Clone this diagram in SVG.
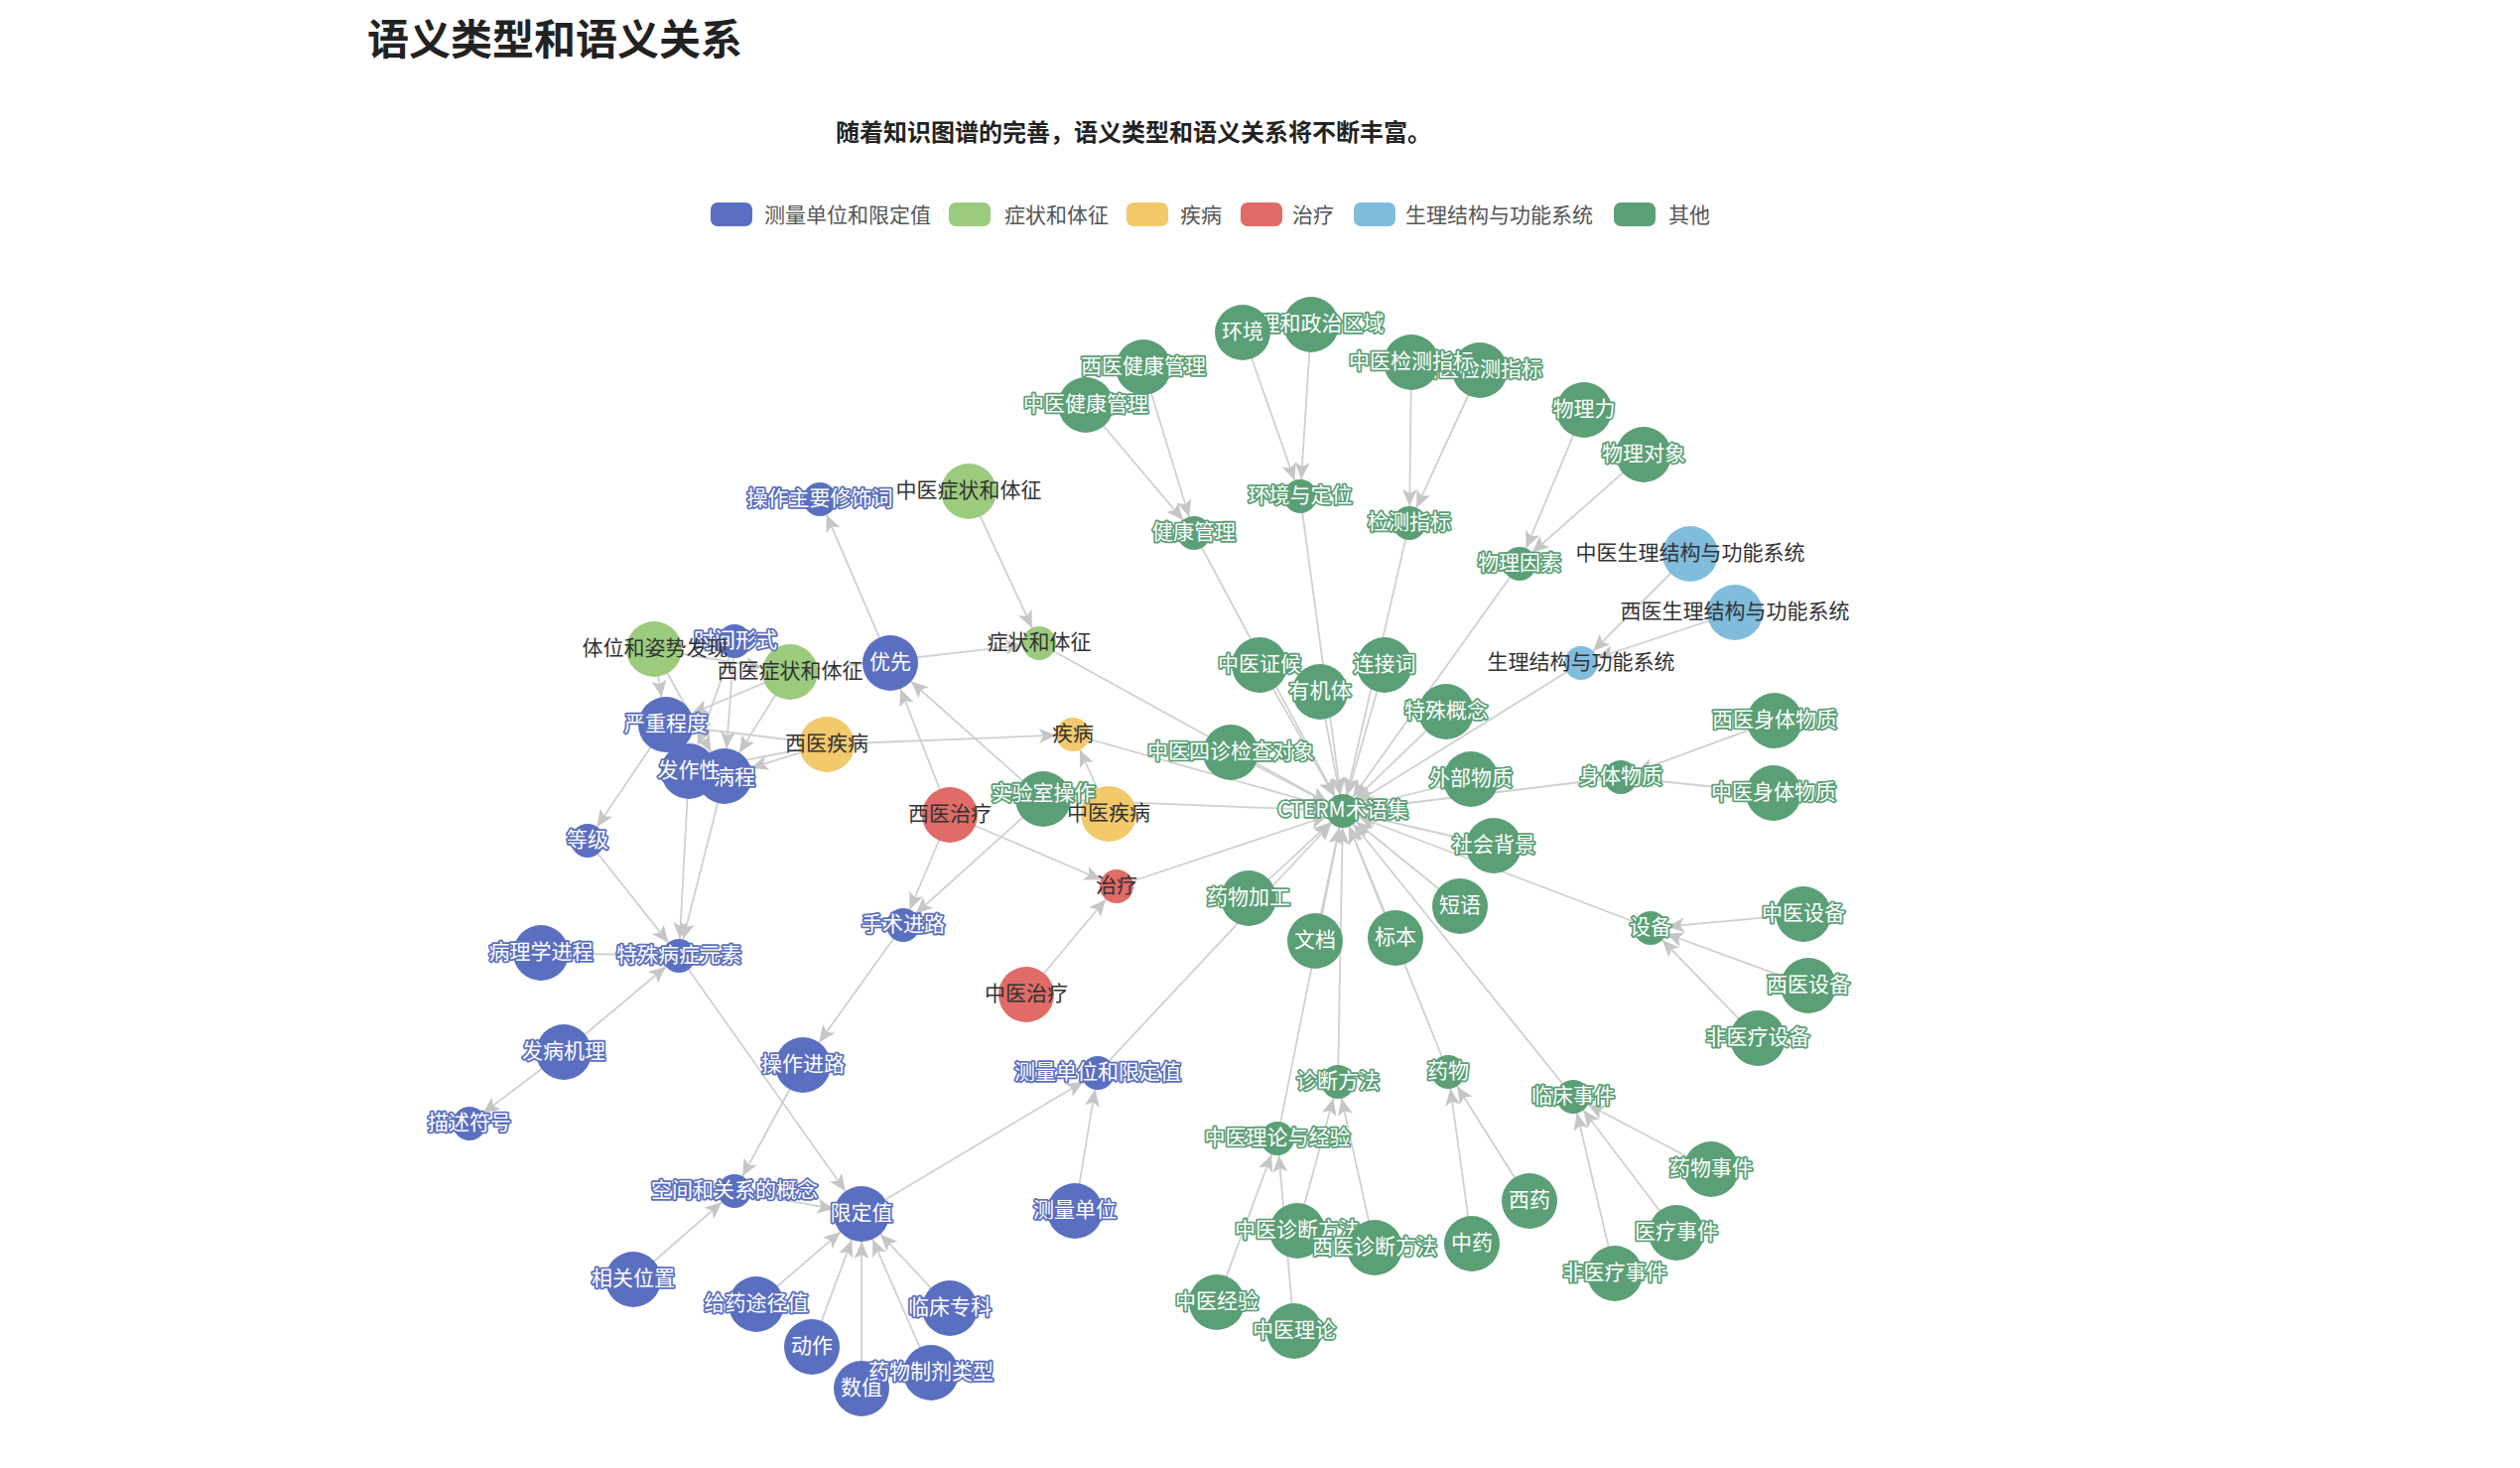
<svg xmlns="http://www.w3.org/2000/svg" width="2539" height="1479" viewBox="0 0 2539 1479">
<style>
.t{font-family:"Noto Sans CJK SC","Noto Sans",sans-serif;font-size:21px;text-anchor:middle;dominant-baseline:central}
.d{fill:#333}
.ob{fill:#fff;stroke:#5b6fc1;stroke-width:3.6;paint-order:stroke;stroke-linejoin:round}
.og{fill:#fff;stroke:#5b9f76;stroke-width:3.6;paint-order:stroke;stroke-linejoin:round}
.cb{fill:#5b6fc1}.cg{fill:#5b9f76}.clg{fill:#9ccb7e}.cy{fill:#f2c96b}.cr{fill:#e06b67}.clb{fill:#80bcdc}
#edges line{stroke:#d0d0d0;stroke-width:1.8}
.ah{fill:#c6c6c6}
.lg{font-family:"Noto Sans CJK SC","Noto Sans",sans-serif;font-size:21px;fill:#555}
#nodes text{transform:translateY(-3px)}
</style>
<defs>
<marker id="a17" markerUnits="userSpaceOnUse" orient="auto" markerWidth="60" markerHeight="30" viewBox="-60 -15 60 30" refX="0" refY="0" overflow="visible"><path class="ah" d="M-17,0 L-34,-7.5 L-30,0 L-34,7.5 Z"/></marker>
<marker id="a28" markerUnits="userSpaceOnUse" orient="auto" markerWidth="60" markerHeight="30" viewBox="-60 -15 60 30" refX="0" refY="0" overflow="visible"><path class="ah" d="M-28,0 L-45,-7.5 L-41,0 L-45,7.5 Z"/></marker>
</defs>
<rect width="2539" height="1479" fill="#fff"/>
<text x="370" y="55" style="font-family:'Noto Sans CJK SC',sans-serif;font-size:42px;font-weight:bold;fill:#222">语义类型和语义关系</text>
<text x="842" y="142" style="font-family:'Noto Sans CJK SC',sans-serif;font-size:24px;font-weight:bold;fill:#222">随着知识图谱的完善，语义类型和语义关系将不断丰富。</text>
<g id="legend">
<rect x="716" y="204" width="42" height="24" rx="7" class="cb"/><text class="lg" x="770" y="224">测量单位和限定值</text>
<rect x="956" y="204" width="42" height="24" rx="7" class="clg"/><text class="lg" x="1012" y="224">症状和体征</text>
<rect x="1135" y="204" width="42" height="24" rx="7" class="cy"/><text class="lg" x="1189" y="224">疾病</text>
<rect x="1250" y="204" width="42" height="24" rx="7" class="cr"/><text class="lg" x="1302" y="224">治疗</text>
<rect x="1364" y="204" width="42" height="24" rx="7" class="clb"/><text class="lg" x="1416" y="224">生理结构与功能系统</text>
<rect x="1626" y="204" width="42" height="24" rx="7" class="cg"/><text class="lg" x="1681" y="224">其他</text>
</g>
<g id="edges">
<g marker-end="url(#a17)">
<line x1="1203" y1="537" x2="1353" y2="817"/>
<line x1="1310" y1="500" x2="1353" y2="817"/>
<line x1="1420" y1="527" x2="1353" y2="817"/>
<line x1="1531" y1="568" x2="1353" y2="817"/>
<line x1="1047" y1="648" x2="1353" y2="817"/>
<line x1="1593" y1="668" x2="1353" y2="817"/>
<line x1="1633" y1="783" x2="1353" y2="817"/>
<line x1="1269" y1="670" x2="1353" y2="817"/>
<line x1="1330" y1="697" x2="1353" y2="817"/>
<line x1="1395" y1="670" x2="1353" y2="817"/>
<line x1="1457" y1="717" x2="1353" y2="817"/>
<line x1="1240" y1="758" x2="1353" y2="817"/>
<line x1="1482" y1="785" x2="1353" y2="817"/>
<line x1="1505" y1="852" x2="1353" y2="817"/>
<line x1="1471" y1="913" x2="1353" y2="817"/>
<line x1="1406" y1="945" x2="1353" y2="817"/>
<line x1="1325" y1="948" x2="1353" y2="817"/>
<line x1="1258" y1="905" x2="1353" y2="817"/>
<line x1="1663" y1="935" x2="1353" y2="817"/>
<line x1="1585" y1="1105" x2="1353" y2="817"/>
<line x1="1459" y1="1080" x2="1353" y2="817"/>
<line x1="1348" y1="1090" x2="1353" y2="817"/>
<line x1="1287" y1="1147" x2="1353" y2="817"/>
<line x1="1106" y1="1081" x2="1353" y2="817"/>
<line x1="1125" y1="893" x2="1353" y2="817"/>
<line x1="1081" y1="740" x2="1353" y2="817"/>
<line x1="1051" y1="805" x2="1353" y2="817"/>
<line x1="1094" y1="408" x2="1203" y2="537"/>
<line x1="1152" y1="370" x2="1203" y2="537"/>
<line x1="1252" y1="335" x2="1310" y2="500"/>
<line x1="1321" y1="327" x2="1310" y2="500"/>
<line x1="1422" y1="365" x2="1420" y2="527"/>
<line x1="1491" y1="373" x2="1420" y2="527"/>
<line x1="1596" y1="413" x2="1531" y2="568"/>
<line x1="1656" y1="458" x2="1531" y2="568"/>
<line x1="976" y1="495" x2="1047" y2="648"/>
<line x1="796" y1="677" x2="1047" y2="648"/>
<line x1="1703" y1="558" x2="1593" y2="668"/>
<line x1="1748" y1="617" x2="1593" y2="668"/>
<line x1="1788" y1="726" x2="1633" y2="783"/>
<line x1="1787" y1="799" x2="1633" y2="783"/>
<line x1="1817" y1="921" x2="1663" y2="935"/>
<line x1="1822" y1="993" x2="1663" y2="935"/>
<line x1="1771" y1="1046" x2="1663" y2="935"/>
<line x1="1724" y1="1178" x2="1585" y2="1105"/>
<line x1="1689" y1="1242" x2="1585" y2="1105"/>
<line x1="1627" y1="1283" x2="1585" y2="1105"/>
<line x1="1541" y1="1210" x2="1459" y2="1080"/>
<line x1="1483" y1="1253" x2="1459" y2="1080"/>
<line x1="1307" y1="1240" x2="1348" y2="1090"/>
<line x1="1385" y1="1257" x2="1348" y2="1090"/>
<line x1="1226" y1="1312" x2="1287" y2="1147"/>
<line x1="1304" y1="1341" x2="1287" y2="1147"/>
<line x1="1083" y1="1220" x2="1106" y2="1081"/>
<line x1="868" y1="1223" x2="1106" y2="1081"/>
<line x1="638" y1="1289" x2="740" y2="1200"/>
<line x1="809" y1="1073" x2="740" y2="1200"/>
<line x1="592" y1="847" x2="684" y2="963"/>
<line x1="545" y1="960" x2="684" y2="963"/>
<line x1="568" y1="1060" x2="684" y2="963"/>
<line x1="694" y1="777" x2="684" y2="963"/>
<line x1="730" y1="782" x2="684" y2="963"/>
<line x1="568" y1="1060" x2="473" y2="1132"/>
<line x1="671" y1="730" x2="592" y2="847"/>
<line x1="957" y1="821" x2="910" y2="932"/>
<line x1="1051" y1="805" x2="910" y2="932"/>
<line x1="957" y1="821" x2="1125" y2="893"/>
<line x1="1034" y1="1002" x2="1125" y2="893"/>
<line x1="1117" y1="820" x2="1081" y2="740"/>
<line x1="833" y1="750" x2="1081" y2="740"/>
<line x1="897" y1="668" x2="826" y2="503"/>
</g>
<g marker-end="url(#a28)">
<line x1="740" y1="1200" x2="868" y2="1223"/>
<line x1="684" y1="963" x2="868" y2="1223"/>
<line x1="762" y1="1314" x2="868" y2="1223"/>
<line x1="818" y1="1357" x2="868" y2="1223"/>
<line x1="868" y1="1399" x2="868" y2="1223"/>
<line x1="938" y1="1383" x2="868" y2="1223"/>
<line x1="957" y1="1318" x2="868" y2="1223"/>
<line x1="910" y1="932" x2="809" y2="1073"/>
<line x1="957" y1="821" x2="897" y2="668"/>
<line x1="1051" y1="805" x2="897" y2="668"/>
<line x1="659" y1="654" x2="671" y2="730"/>
<line x1="796" y1="677" x2="671" y2="730"/>
<line x1="833" y1="750" x2="671" y2="730"/>
<line x1="740" y1="647" x2="694" y2="777"/>
<line x1="833" y1="750" x2="694" y2="777"/>
<line x1="659" y1="654" x2="730" y2="782"/>
<line x1="740" y1="647" x2="730" y2="782"/>
<line x1="796" y1="677" x2="730" y2="782"/>
<line x1="833" y1="750" x2="730" y2="782"/>
<line x1="659" y1="654" x2="796" y2="677"/>
</g>
</g>
<g id="nodes">
<g id="n-cterm"><circle class="cg" cx="1353" cy="817" r="17"/><text class="t og" x="1353" y="817">CTERM术语集</text></g>
<g id="n-jkgl"><circle class="cg" cx="1203" cy="537" r="17"/><text class="t og" x="1203" y="537">健康管理</text></g>
<g id="n-zyjkgl"><circle class="cg" cx="1094" cy="408" r="28"/><text class="t og" x="1094" y="408">中医健康管理</text></g>
<g id="n-xyjkgl"><circle class="cg" cx="1152" cy="370" r="28"/><text class="t og" x="1152" y="370">西医健康管理</text></g>
<g id="n-hjdw"><circle class="cg" cx="1310" cy="500" r="17"/><text class="t og" x="1310" y="500">环境与定位</text></g>
<g id="n-dlzz"><circle class="cg" cx="1321" cy="327" r="28"/><text class="t og" x="1321" y="327">地理和政治区域</text></g>
<g id="n-hj"><circle class="cg" cx="1252" cy="335" r="28"/><text class="t og" x="1252" y="335">环境</text></g>
<g id="n-jczb"><circle class="cg" cx="1420" cy="527" r="17"/><text class="t og" x="1420" y="527">检测指标</text></g>
<g id="n-xyjczb"><circle class="cg" cx="1491" cy="373" r="28"/><text class="t og" x="1491" y="373">西医检测指标</text></g>
<g id="n-zyjczb"><circle class="cg" cx="1422" cy="365" r="28"/><text class="t og" x="1422" y="365">中医检测指标</text></g>
<g id="n-wlys"><circle class="cg" cx="1531" cy="568" r="17"/><text class="t og" x="1531" y="568">物理因素</text></g>
<g id="n-wll"><circle class="cg" cx="1596" cy="413" r="28"/><text class="t og" x="1596" y="413">物理力</text></g>
<g id="n-wldx"><circle class="cg" cx="1656" cy="458" r="28"/><text class="t og" x="1656" y="458">物理对象</text></g>
<g id="n-slgn"><circle class="clb" cx="1593" cy="668" r="17"/><text class="t d" x="1593" y="668">生理结构与功能系统</text></g>
<g id="n-zyslgn"><circle class="clb" cx="1703" cy="558" r="28"/><text class="t d" x="1703" y="558">中医生理结构与功能系统</text></g>
<g id="n-xyslgn"><circle class="clb" cx="1748" cy="617" r="28"/><text class="t d" x="1748" y="617">西医生理结构与功能系统</text></g>
<g id="n-stwz"><circle class="cg" cx="1633" cy="783" r="17"/><text class="t og" x="1633" y="783">身体物质</text></g>
<g id="n-xystwz"><circle class="cg" cx="1788" cy="726" r="28"/><text class="t og" x="1788" y="726">西医身体物质</text></g>
<g id="n-zystwz"><circle class="cg" cx="1787" cy="799" r="28"/><text class="t og" x="1787" y="799">中医身体物质</text></g>
<g id="n-yjt"><circle class="cg" cx="1330" cy="697" r="28"/><text class="t og" x="1330" y="697">有机体</text></g>
<g id="n-zyzh"><circle class="cg" cx="1269" cy="670" r="28"/><text class="t og" x="1269" y="670">中医证候</text></g>
<g id="n-ljc"><circle class="cg" cx="1395" cy="670" r="28"/><text class="t og" x="1395" y="670">连接词</text></g>
<g id="n-tsgn"><circle class="cg" cx="1457" cy="717" r="28"/><text class="t og" x="1457" y="717">特殊概念</text></g>
<g id="n-szjc"><circle class="cg" cx="1240" cy="758" r="28"/><text class="t og" x="1240" y="758">中医四诊检查对象</text></g>
<g id="n-wbwz"><circle class="cg" cx="1482" cy="785" r="28"/><text class="t og" x="1482" y="785">外部物质</text></g>
<g id="n-shbj"><circle class="cg" cx="1505" cy="852" r="28"/><text class="t og" x="1505" y="852">社会背景</text></g>
<g id="n-dy"><circle class="cg" cx="1471" cy="913" r="28"/><text class="t og" x="1471" y="913">短语</text></g>
<g id="n-bb"><circle class="cg" cx="1406" cy="945" r="28"/><text class="t og" x="1406" y="945">标本</text></g>
<g id="n-wd"><circle class="cg" cx="1325" cy="948" r="28"/><text class="t og" x="1325" y="948">文档</text></g>
<g id="n-ywjg"><circle class="cg" cx="1258" cy="905" r="28"/><text class="t og" x="1258" y="905">药物加工</text></g>
<g id="n-sb"><circle class="cg" cx="1663" cy="935" r="17"/><text class="t og" x="1663" y="935">设备</text></g>
<g id="n-zysb"><circle class="cg" cx="1817" cy="921" r="28"/><text class="t og" x="1817" y="921">中医设备</text></g>
<g id="n-xysb"><circle class="cg" cx="1822" cy="993" r="28"/><text class="t og" x="1822" y="993">西医设备</text></g>
<g id="n-fylsb"><circle class="cg" cx="1771" cy="1046" r="28"/><text class="t og" x="1771" y="1046">非医疗设备</text></g>
<g id="n-lcsj"><circle class="cg" cx="1585" cy="1105" r="17"/><text class="t og" x="1585" y="1105">临床事件</text></g>
<g id="n-ywsj"><circle class="cg" cx="1724" cy="1178" r="28"/><text class="t og" x="1724" y="1178">药物事件</text></g>
<g id="n-ylsj"><circle class="cg" cx="1689" cy="1242" r="28"/><text class="t og" x="1689" y="1242">医疗事件</text></g>
<g id="n-fylsj"><circle class="cg" cx="1627" cy="1283" r="28"/><text class="t og" x="1627" y="1283">非医疗事件</text></g>
<g id="n-yw"><circle class="cg" cx="1459" cy="1080" r="17"/><text class="t og" x="1459" y="1080">药物</text></g>
<g id="n-xiyao"><circle class="cg" cx="1541" cy="1210" r="28"/><text class="t og" x="1541" y="1210">西药</text></g>
<g id="n-zhongyao"><circle class="cg" cx="1483" cy="1253" r="28"/><text class="t og" x="1483" y="1253">中药</text></g>
<g id="n-zdff"><circle class="cg" cx="1348" cy="1090" r="17"/><text class="t og" x="1348" y="1090">诊断方法</text></g>
<g id="n-zyzdff"><circle class="cg" cx="1307" cy="1240" r="28"/><text class="t og" x="1307" y="1240">中医诊断方法</text></g>
<g id="n-xyzdff"><circle class="cg" cx="1385" cy="1257" r="28"/><text class="t og" x="1385" y="1257">西医诊断方法</text></g>
<g id="n-zyllyjy"><circle class="cg" cx="1287" cy="1147" r="17"/><text class="t og" x="1287" y="1147">中医理论与经验</text></g>
<g id="n-zyjy"><circle class="cg" cx="1226" cy="1312" r="28"/><text class="t og" x="1226" y="1312">中医经验</text></g>
<g id="n-zyll"><circle class="cg" cx="1304" cy="1341" r="28"/><text class="t og" x="1304" y="1341">中医理论</text></g>
<g id="n-cldwxdz"><circle class="cb" cx="1106" cy="1081" r="17"/><text class="t ob" x="1106" y="1081">测量单位和限定值</text></g>
<g id="n-cldw"><circle class="cb" cx="1083" cy="1220" r="28"/><text class="t ob" x="1083" y="1220">测量单位</text></g>
<g id="n-xdz"><circle class="cb" cx="868" cy="1223" r="28"/><text class="t ob" x="868" y="1223">限定值</text></g>
<g id="n-kjgx"><circle class="cb" cx="740" cy="1200" r="17"/><text class="t ob" x="740" y="1200">空间和关系的概念</text></g>
<g id="n-xgwz"><circle class="cb" cx="638" cy="1289" r="28"/><text class="t ob" x="638" y="1289">相关位置</text></g>
<g id="n-gytj"><circle class="cb" cx="762" cy="1314" r="28"/><text class="t ob" x="762" y="1314">给药途径值</text></g>
<g id="n-dz"><circle class="cb" cx="818" cy="1357" r="28"/><text class="t ob" x="818" y="1357">动作</text></g>
<g id="n-sz"><circle class="cb" cx="868" cy="1399" r="28"/><text class="t ob" x="868" y="1399">数值</text></g>
<g id="n-ywzj"><circle class="cb" cx="938" cy="1383" r="28"/><text class="t ob" x="938" y="1383">药物制剂类型</text></g>
<g id="n-lczk"><circle class="cb" cx="957" cy="1318" r="28"/><text class="t ob" x="957" y="1318">临床专科</text></g>
<g id="n-czjl"><circle class="cb" cx="809" cy="1073" r="28"/><text class="t ob" x="809" y="1073">操作进路</text></g>
<g id="n-ssjl"><circle class="cb" cx="910" cy="932" r="17"/><text class="t ob" x="910" y="932">手术进路</text></g>
<g id="n-tsbz"><circle class="cb" cx="684" cy="963" r="17"/><text class="t ob" x="684" y="963">特殊病症元素</text></g>
<g id="n-blxjc"><circle class="cb" cx="545" cy="960" r="28"/><text class="t ob" x="545" y="960">病理学进程</text></g>
<g id="n-fbjl"><circle class="cb" cx="568" cy="1060" r="28"/><text class="t ob" x="568" y="1060">发病机理</text></g>
<g id="n-msfh"><circle class="cb" cx="473" cy="1132" r="17"/><text class="t ob" x="473" y="1132">描述符号</text></g>
<g id="n-dj"><circle class="cb" cx="592" cy="847" r="17"/><text class="t ob" x="592" y="847">等级</text></g>
<g id="n-yzcd"><circle class="cb" cx="671" cy="730" r="28"/><text class="t ob" x="671" y="730">严重程度</text></g>
<g id="n-bc"><circle class="cb" cx="730" cy="782" r="28"/><text class="t ob" x="740" y="784">病程</text></g>
<g id="n-fzx"><circle class="cb" cx="694" cy="777" r="28"/><text class="t ob" x="694" y="777">发作性</text></g>
<g id="n-yx"><circle class="cb" cx="897" cy="668" r="28"/><text class="t ob" x="897" y="668">优先</text></g>
<g id="n-czzy"><circle class="cb" cx="826" cy="503" r="17"/><text class="t ob" x="826" y="503">操作主要修饰词</text></g>
<g id="n-xyzz"><circle class="clg" cx="796" cy="677" r="28"/><text class="t d" x="796" y="677">西医症状和体征</text></g>
<g id="n-sjxs"><circle class="cb" cx="740" cy="646" r="17"/><text class="t ob" x="741" y="646">时间形式</text></g>
<g id="n-twzs"><circle class="clg" cx="659" cy="654" r="28"/><text class="t d" x="660" y="654">体位和姿势发现</text></g>
<g id="n-zyzz"><circle class="clg" cx="976" cy="495" r="28"/><text class="t d" x="976" y="495">中医症状和体征</text></g>
<g id="n-zztz"><circle class="clg" cx="1047" cy="648" r="17"/><text class="t d" x="1047" y="648">症状和体征</text></g>
<g id="n-xyjb"><circle class="cy" cx="833" cy="750" r="28"/><text class="t d" x="833" y="750">西医疾病</text></g>
<g id="n-jb"><circle class="cy" cx="1081" cy="740" r="17"/><text class="t d" x="1081" y="740">疾病</text></g>
<g id="n-zyjb"><circle class="cy" cx="1117" cy="820" r="28"/><text class="t d" x="1117" y="820">中医疾病</text></g>
<g id="n-xyzl"><circle class="cr" cx="957" cy="821" r="28"/><text class="t d" x="957" y="821">西医治疗</text></g>
<g id="n-sysc"><circle class="cg" cx="1051" cy="805" r="28"/><text class="t og" x="1051" y="800">实验室操作</text></g>
<g id="n-zl"><circle class="cr" cx="1125" cy="893" r="17"/><text class="t d" x="1125" y="893">治疗</text></g>
<g id="n-zyzl"><circle class="cr" cx="1034" cy="1002" r="28"/><text class="t d" x="1034" y="1002">中医治疗</text></g>
</g>
</svg>
